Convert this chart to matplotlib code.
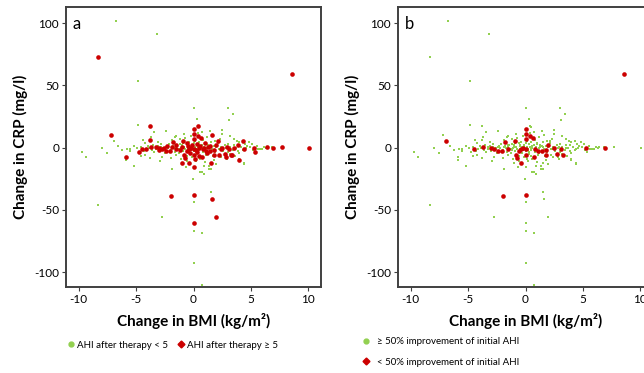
import matplotlib
matplotlib.use("Agg")
import matplotlib.pyplot as plt
from matplotlib.lines import Line2D

plt.rcParams["font.family"] = ["Lato", "DejaVu Sans"]
plt.rcParams["axes.unicode_minus"] = False

# (change in BMI, change in CRP, red in panel a, red in panel b)
points = [
    # outliers
    (-6.75, 101.6, 0, 0), (-3.16, 91.2, 0, 0), (-8.31, 72.6, 1, 0), (8.56, 59.5, 1, 1),
    (-4.83, 53.6, 0, 0), (0.03, 31.6, 0, 0), (2.99, 32.2, 0, 0), (3.40, 27.1, 0, 0),
    (3.13, 22.3, 0, 0), (0.32, 22.8, 0, 0), (-3.79, 17.1, 1, 0), (-4.83, 18.5, 0, 0),
    (-3.44, 12.3, 0, 0), (-7.16, 10.2, 1, 0), (-6.9, 5.6, 0, 1), (-6.57, 1.0, 0, 0),
    (-9.7, -3.2, 0, 0), (-9.33, -7.5, 0, 0), (-8.0, -0.5, 0, 0), (-7.5, -4.0, 0, 0),
    (-5.85, -7.8, 1, 0), (-5.85, -9.7, 0, 0), (-5.2, -14.5, 0, 0),
    # red in both panels
    (-4.75, -3.8, 1, 0), (-4.5, -1.5, 1, 1), (-4.1, -1.0, 1, 0), (-3.8, 6.2, 1, 0),
    (-3.68, 0.2, 1, 1), (-3.25, 0.5, 1, 0), (-2.97, -0.3, 1, 1), (-2.7, -1.5, 1, 1),
    (-2.4, -2.4, 1, 1), (-2.05, -3.0, 1, 1), (-1.76, 4.5, 1, 1), (-1.5, -1.0, 1, 1),
    (-0.95, 5.3, 1, 1), (-0.87, -5.8, 1, 1), (-0.75, -8.3, 1, 1), (-0.6, -2.5, 1, 1),
    (-0.2, -0.7, 1, 1), (-0.38, -12.5, 1, 1), (0.0, 14.8, 1, 1), (0.0, 11.2, 1, 1),
    (0.0, 7.3, 1, 1), (0.43, 17.1, 1, 0), (0.4, 9.1, 1, 1), (0.65, 7.8, 1, 1),
    (-0.35, -1.0, 1, 1), (0.0, -1.0, 1, 1), (0.8, -1.0, 1, 1), (1.1, -2.4, 1, 1),
    (1.4, -3.0, 1, 1), (1.8, -1.9, 1, 1), (2.0, 2.2, 1, 1), (2.5, -0.2, 1, 1),
    (2.76, -5.0, 1, 1), (3.1, -1.0, 1, 1), (3.25, -6.0, 1, 1), (1.8, -5.8, 1, 1),
    (0.7, -7.8, 1, 1), (0.0, -5.6, 1, 1), (5.3, 0.0, 1, 1), (6.95, -0.2, 1, 1),
    (5.37, -3.5, 1, 0), (6.4, 0.8, 1, 0), (7.7, 0.2, 1, 0), (10.06, -0.2, 1, 0),
    # red only in panel a
    (1.45, 1.6, 1, 0), (1.6, 10.5, 1, 0), (2.17, 5.1, 1, 0), (2.2, -6.0, 1, 0),
    (2.8, -7.8, 1, 0), (3.34, -5.9, 1, 0), (3.54, 0.0, 1, 0), (3.86, 2.2, 1, 0),
    (4.0, -9.7, 1, 0), (4.35, 5.6, 1, 0), (4.41, -1.0, 1, 0), (1.5, -12.6, 1, 0),
    (0.0, -15.8, 1, 0), (0.1, -9.4, 1, 0), (0.93, -0.2, 1, 0), (0.3, 3.0, 1, 0),
    (0.6, 1.5, 1, 0), (-0.1, 2.5, 1, 0), (-0.5, 1.0, 1, 0), (-1.0, 0.5, 1, 0),
    (-1.2, -2.0, 1, 0), (-1.9, 0.2, 1, 0), (-2.3, 1.0, 1, 0), (-3.0, -1.8, 1, 0),
    (-1.0, -12.5, 1, 0), (0.3, -3.5, 1, 0), (0.5, -6.5, 1, 0), (-0.3, -4.0, 1, 0),
    (1.0, 4.0, 1, 0), (1.2, -4.5, 1, 0), (-0.6, 3.5, 1, 0), (0.2, -2.0, 1, 0),
    (0.5, 0.0, 1, 0), (2.4, -1.5, 1, 0), (2.9, 0.5, 1, 0), (1.3, 0.8, 1, 0),
    (-1.5, 2.0, 1, 0), (-2.6, 0.0, 1, 0),
    # lower values
    (-2.0, -38.9, 1, 1), (0.0, -38.4, 1, 1), (1.6, -41.0, 1, 0), (1.95, -56.1, 1, 0),
    (0.0, -60.3, 1, 0), (1.48, -36.0, 0, 0), (0.0, -43.4, 0, 0), (-8.31, -46.4, 0, 0),
    (-2.75, -56.1, 0, 0), (0.0, -67.3, 0, 0), (0.76, -68.4, 0, 0), (0.0, -93.0, 0, 0),
    (0.73, -110.5, 0, 0), (-0.05, -25.2, 0, 0), (1.5, -17.4, 0, 0), (0.6, -19.5, 0, 0),
    (-1.88, -16.9, 0, 0), (4.43, -12.6, 0, 0), (5.8, -1.0, 0, 0),
    # green cluster
    (0.73, 12.3, 0, 0), (1.45, 13.7, 0, 0), (2.47, 11.0, 0, 0), (3.2, 9.7, 0, 0),
    (4.0, 4.3, 0, 0), (4.64, 1.6, 0, 0), (5.08, 3.0, 0, 0), (5.65, -1.0, 0, 0),
    (5.95, -1.0, 0, 0), (3.5, 7.0, 0, 0), (1.9, 5.6, 0, 0), (1.0, -11.8, 0, 0),
    (1.37, -17.1, 0, 0), (1.97, -13.1, 0, 0), (4.4, -13.1, 0, 0), (2.9, -9.1, 0, 0),
    (3.2, -5.1, 0, 0), (4.0, -4.0, 0, 0), (0.73, -19.9, 0, 0), (0.5, 16.3, 0, 0),
    (3.83, 5.1, 0, 0), (4.8, 4.2, 0, 0), (6.1, 0.8, 0, 0), (3.97, -9.1, 0, 0),
    (0.95, -21.2, 0, 0), (2.38, -7.8, 0, 0), (1.38, -14.5, 0, 0),
    (-4.4, 6.4, 0, 0), (-4.26, -5.6, 0, 0), (-3.83, -8.6, 0, 0), (-3.4, -3.2, 0, 0),
    (-3.1, 4.8, 0, 0), (-2.7, -7.5, 0, 0), (-2.3, 1.6, 0, 0), (-1.94, -8.3, 0, 0),
    (-1.65, 8.3, 0, 0), (-1.5, 9.0, 0, 0), (-1.2, 3.0, 0, 0), (-1.3, -4.3, 0, 0),
    (-1.07, -9.1, 0, 0), (-0.63, -15.8, 0, 0), (-5.56, -1.0, 0, 0), (-5.5, -2.5, 0, 0),
    (-0.6, -10.5, 0, 0),
    (-4.9, -0.5, 0, 0), (-4.6, 0.8, 0, 0), (-4.3, -2.8, 0, 0), (-4.0, 1.5, 0, 0),
    (-3.9, -0.3, 0, 0), (-3.6, -1.8, 0, 0), (-3.5, 2.5, 0, 0), (-3.3, -0.8, 0, 0),
    (-3.1, 1.0, 0, 0), (-3.0, -2.6, 0, 0), (-2.8, 0.3, 0, 0), (-2.8, 3.2, 0, 0),
    (-2.6, -1.2, 0, 0), (-2.5, -4.5, 0, 0), (-2.4, 0.8, 0, 0), (-2.2, -0.5, 0, 0),
    (-2.1, 2.8, 0, 0), (-2.0, -1.8, 0, 0), (-1.9, 5.8, 0, 0), (-1.8, 1.2, 0, 0),
    (-1.7, -0.6, 0, 0), (-1.6, -3.4, 0, 0), (-1.5, 0.6, 0, 0), (-1.4, 2.4, 0, 0),
    (-1.3, -1.5, 0, 0), (-1.2, 6.8, 0, 0), (-1.1, -0.2, 0, 0), (-1.0, 1.8, 0, 0),
    (-0.9, -2.8, 0, 0), (-0.9, 3.6, 0, 0), (-0.8, 0.4, 0, 0), (-0.7, -1.4, 0, 0),
    (-0.7, 7.5, 0, 0), (-0.6, -6.5, 0, 0), (-0.5, 2.2, 0, 0), (-0.5, -0.8, 0, 0),
    (-0.4, 4.8, 0, 0), (-0.4, -3.6, 0, 0), (-0.3, 0.9, 0, 0), (-0.2, -2.0, 0, 0),
    (-0.2, 9.5, 0, 0), (-0.1, 1.6, 0, 0), (-0.1, -7.2, 0, 0), (0.0, 3.8, 0, 0),
    (0.0, -3.0, 0, 0), (0.1, 0.2, 0, 0), (0.1, 5.6, 0, 0), (0.2, -1.4, 0, 0),
    (0.2, -10.8, 0, 0), (0.3, 2.6, 0, 0), (0.3, -4.8, 0, 0), (0.4, 0.6, 0, 0),
    (0.4, 12.0, 0, 0), (0.5, -2.2, 0, 0), (0.5, 4.4, 0, 0), (0.6, -0.4, 0, 0),
    (0.6, -8.8, 0, 0), (0.7, 1.9, 0, 0), (0.8, -3.4, 0, 0), (0.8, 6.2, 0, 0),
    (0.9, 0.8, 0, 0), (1.0, -1.6, 0, 0), (1.0, 3.2, 0, 0), (1.1, -5.6, 0, 0),
    (1.2, 0.0, 0, 0), (1.2, 8.6, 0, 0), (1.3, 2.4, 0, 0), (1.4, -2.4, 0, 0),
    (1.5, 0.9, 0, 0), (1.5, 4.6, 0, 0), (1.6, -1.0, 0, 0), (1.7, -6.8, 0, 0),
    (1.8, 1.6, 0, 0), (1.9, -3.2, 0, 0), (2.0, 0.3, 0, 0), (2.1, 3.4, 0, 0),
    (2.2, -1.4, 0, 0), (2.3, 6.8, 0, 0), (2.4, 0.8, 0, 0), (2.6, -2.6, 0, 0),
    (2.7, 1.8, 0, 0), (2.8, -0.6, 0, 0), (3.0, 3.0, 0, 0), (3.0, -3.6, 0, 0),
    (3.2, 0.6, 0, 0), (3.4, -1.8, 0, 0), (3.5, 1.8, 0, 0), (3.7, -0.4, 0, 0),
    (3.9, -2.6, 0, 0), (4.1, 0.8, 0, 0), (4.3, -1.6, 0, 0), (4.6, -0.6, 0, 0),
    (4.9, 0.9, 0, 0), (5.2, -1.8, 0, 0), (5.5, 1.5, 0, 0), (6.3, -0.6, 0, 0),
    (6.8, 0.5, 0, 0), (-5.2, 1.2, 0, 0), (-5.8, -0.8, 0, 0), (-6.2, -2.0, 0, 0),
    (-4.6, -7.0, 0, 0), (-3.7, 8.8, 0, 0), (-2.9, -10.5, 0, 0), (2.5, 14.0, 0, 0),
    (-2.4, 13.5, 0, 0), (1.8, -10.0, 0, 0), (-1.5, -6.0, 0, 0), (3.6, -7.0, 0, 0),
    (-4.2, 3.5, 0, 0), (4.5, 3.0, 0, 0), (-0.8, 11.0, 0, 0), (0.9, -14.8, 0, 0),
]

bmi = [p[0] for p in points]
crp = [p[1] for p in points]
red_a = [p[2] for p in points]
red_b = [p[3] for p in points]

xticks = [-10, -5, 0, 5, 10]
yticks = [-100, -50, 0, 50, 100]

GREEN = "#92d050"
RED = "#cc0000"
SPINE = "#404040"

fig = plt.figure(figsize=(6.44, 3.73), dpi=100)
ax_a = fig.add_axes([66 / 644, 86 / 373, 255 / 644, 280 / 373])
ax_b = fig.add_axes([398 / 644, 86 / 373, 255 / 644, 280 / 373])


def draw(ax, flags, letter):
    gx = [x for x, f in zip(bmi, flags) if not f]
    gy = [y for y, f in zip(crp, flags) if not f]
    rx = [x for x, f in zip(bmi, flags) if f]
    ry = [y for y, f in zip(crp, flags) if f]
    ax.scatter(gx, gy, s=4, color=GREEN, marker="s", linewidths=0, zorder=2)
    ax.scatter(rx, ry, s=11, color=RED, marker="o", linewidths=0, zorder=3)
    ax.set_xlim(-11.1, 11.1)
    ax.set_ylim(-112, 113)
    ax.set_xticks(xticks)
    ax.set_yticks(yticks)
    ax.tick_params(labelsize=8.5, length=3, width=0.8, color=SPINE, pad=2)
    for s in ax.spines.values():
        s.set_color(SPINE)
        s.set_linewidth(1.4)
    ax.set_xlabel("Change in BMI (kg/m²)", fontsize=11, fontweight="bold", labelpad=6)
    ax.set_ylabel("Change in CRP (mg/l)", fontsize=11, fontweight="bold", labelpad=4)
    ax.text(0.025, 0.94, letter, transform=ax.transAxes, fontsize=12, va="center")


draw(ax_a, red_a, "a")
draw(ax_b, red_b, "b")

h_green = Line2D([], [], ls="none", marker="o", ms=3.5, color=GREEN)
h_red = Line2D([], [], ls="none", marker="D", ms=3.5, color=RED)
fig.legend([h_green, h_red], ["AHI after therapy < 5", "AHI after therapy ≥ 5"],
           loc="center", bbox_to_anchor=(172 / 644, 1 - 345 / 373), ncol=2,
           frameon=False, fontsize=7, handletextpad=0.1, columnspacing=0.9,
           handlelength=1.0)
fig.legend([h_green, h_red], ["≥ 50% improvement of initial AHI",
                              "< 50% improvement of initial AHI"],
           loc="center", bbox_to_anchor=(440 / 644, 1 - 352 / 373), ncol=1,
           frameon=False, fontsize=7, handletextpad=0.6, labelspacing=1.2,
           handlelength=1.0)

fig.savefig("out.png", dpi=100)
